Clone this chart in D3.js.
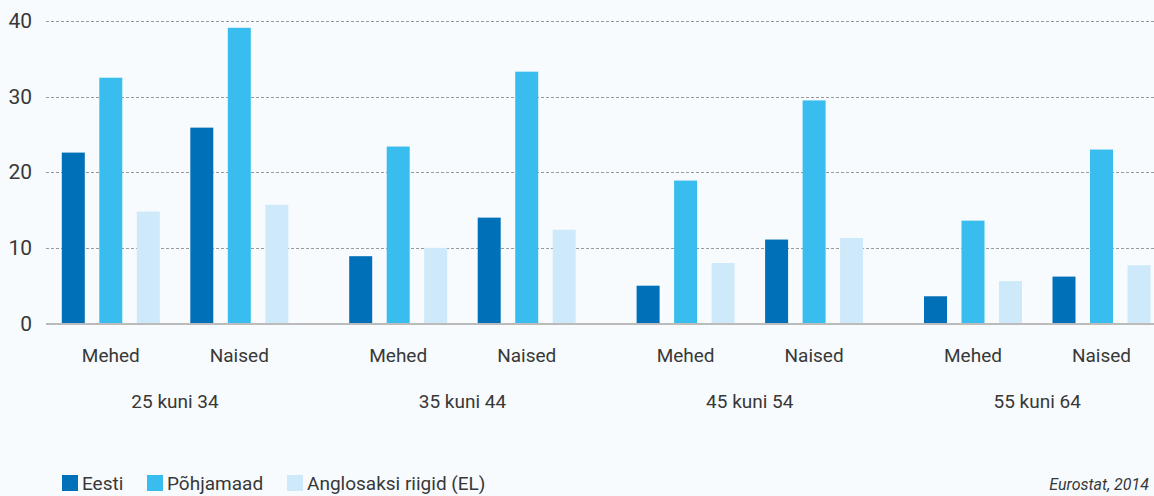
<!DOCTYPE html>
<html>
<head>
<meta charset="utf-8">
<script src="https://cdn.jsdelivr.net/npm/d3@7"></script>
<style>
  body { margin: 0; background: #f7fbfe; }
  svg { display: block; font-family: Roboto, "Liberation Sans", sans-serif; }
</style>
</head>
<body>
<script>
// data
const ageGroups = ["25 kuni 34", "35 kuni 44", "45 kuni 54", "55 kuni 64"];
const sexes = ["Mehed", "Naised"];
const seriesNames = ["Eesti", "Põhjamaad", "Anglosaksi riigid (EL)"];
// values per age group, [Mehed, Naised]
const eesti = [[22.6, 25.9], [8.9, 14.0], [5.0, 11.1], [3.6, 6.2]];
const pohjamaad = [[32.5, 39.1], [23.4, 33.3], [18.9, 29.5], [13.6, 23.0]];
const anglosaksi = [[14.8, 15.7], [10.0, 12.4], [8.0, 11.3], [5.6, 7.7]];
const yTicks = [0, 10, 20, 30, 40];
const source = "Eurostat, 2014";

const colors = ["#0070b8", "#38bdee", "#cde9fa"];
const seriesValues = [eesti, pohjamaad, anglosaksi];

const width = 1154, height = 496;

const svg = d3.select("body").append("svg")
  .attr("width", width)
  .attr("height", height);

svg.append("rect").attr("width", width).attr("height", height).attr("fill", "#f7fbfe");

// scales
const y = d3.scaleLinear().domain([0, 40]).range([323.5, 21]);
const x0 = d3.scaleBand().domain(ageGroups).range([31.3, 31.3 + 4 * 287.4]);
const x1 = d3.scalePoint().domain(sexes).range([79.5, 208]);
const x2 = d3.scaleBand().domain(seriesNames).range([-56.25, 56.25])
  .paddingInner(0.387).paddingOuter(0.1935);

// y axis labels
const yAxis = d3.axisLeft(y).tickValues(yTicks).tickSize(0).tickPadding(14);
const gy = svg.append("g").attr("transform", "translate(46,0)").call(yAxis);
gy.select(".domain").remove();
gy.selectAll("text")
  .attr("fill", "#383838")
  .attr("font-family", "Roboto, sans-serif")
  .style("font-size", "21px");

// grid lines
svg.append("g")
  .selectAll("line")
  .data(yTicks.filter((d) => d > 0))
  .enter()
  .append("line")
  .attr("x1", 46)
  .attr("x2", width)
  .attr("y1", (d) => Math.round(y(d)) + 0.5)
  .attr("y2", (d) => Math.round(y(d)) + 0.5)
  .attr("stroke", "#999")
  .attr("stroke-dasharray", "3,2");

// bars
const rows = [];
ageGroups.forEach((g, gi) => {
  sexes.forEach((s, si) => {
    seriesNames.forEach((n, ni) => {
      rows.push({ group: g, sex: s, series: n, value: seriesValues[ni][gi][si], color: colors[ni] });
    });
  });
});

svg.append("g")
  .selectAll("rect")
  .data(rows)
  .enter()
  .append("rect")
  .attr("x", (d) => x0(d.group) + x1(d.sex) + x2(d.series))
  .attr("y", (d) => y(d.value))
  .attr("width", x2.bandwidth())
  .attr("height", (d) => y(0) - y(d.value))
  .attr("fill", (d) => d.color);

// zero line
svg.append("line")
  .attr("x1", 46).attr("x2", width)
  .attr("y1", y(0) + 0.5).attr("y2", y(0) + 0.5)
  .attr("stroke", "#bbb")
  .attr("stroke-width", 2);

// sex labels
const sexLabels = [];
ageGroups.forEach((g) => sexes.forEach((s) => sexLabels.push({ group: g, sex: s })));
svg.append("g")
  .selectAll("text")
  .data(sexLabels)
  .enter()
  .append("text")
  .attr("x", (d) => x0(d.group) + x1(d.sex))
  .attr("y", 362)
  .attr("text-anchor", "middle")
  .attr("fill", "#383838")
  .style("font-size", "19px")
  .text((d) => d.sex);

// age group labels
svg.append("g")
  .selectAll("text")
  .data(ageGroups)
  .enter()
  .append("text")
  .attr("x", (d) => x0(d) + x0.bandwidth() / 2)
  .attr("y", 408)
  .attr("text-anchor", "middle")
  .attr("fill", "#383838")
  .style("font-size", "19px")
  .text((d) => d);

// legend
const legendX = [62, 147, 287];
const legend = svg.append("g");
legend.selectAll("rect")
  .data(seriesNames)
  .enter()
  .append("rect")
  .attr("x", (d, i) => legendX[i])
  .attr("y", 475)
  .attr("width", 16)
  .attr("height", 16)
  .attr("fill", (d, i) => colors[i]);
legend.selectAll("text")
  .data(seriesNames)
  .enter()
  .append("text")
  .attr("x", (d, i) => legendX[i] + 20)
  .attr("y", 490)
  .attr("fill", "#383838")
  .style("font-size", "19px")
  .text((d) => d);

svg.append("text")
  .attr("x", 1149)
  .attr("y", 490)
  .attr("text-anchor", "end")
  .attr("fill", "#383838")
  .style("font-size", "16px")
  .style("font-style", "italic")
  .text(source);
</script>
</body>
</html>
